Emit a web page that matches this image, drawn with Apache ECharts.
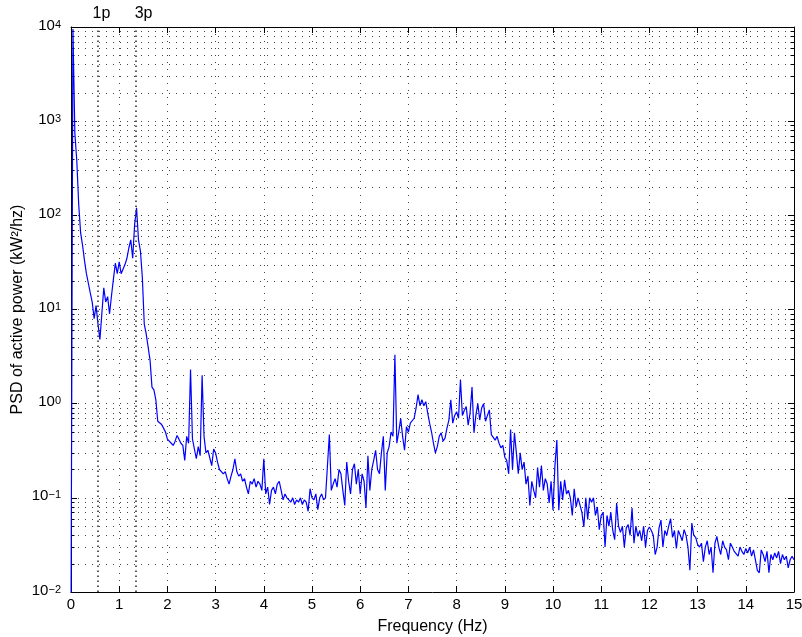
<!DOCTYPE html>
<html><head><meta charset="utf-8">
<script src="https://cdn.jsdelivr.net/npm/echarts@6/dist/echarts.min.js"></script>
<style>html,body{margin:0;padding:0;background:#fff}#c{width:802px;height:637px}</style>
</head><body><div id="c"></div>
<script>
// frequency grid step (Hz); psd values, one per step from 0 to 15 Hz
const df = 0.04;
const psd = [
  0.005, 9500, 750, 380, 130, 65, 48, 33, 24, 19, 15, 12, 8, 11, 7, 4.8, 9, 17, 12, 13.7, 9, 14, 21, 31, 24,
  32, 24, 25, 30, 35, 45, 55, 35, 80, 120, 55, 42, 22, 7, 5.5, 4, 2.9, 1.5, 1.4, 1.1, 0.65, 0.68, 0.6, 0.55, 0.5,
  0.42, 0.40, 0.38, 0.36, 0.40, 0.46, 0.42, 0.38, 0.36, 0.25, 0.45, 0.38, 2.3, 0.42, 0.40, 0.26, 0.35, 0.28, 2.0, 0.45, 0.30, 0.32, 0.31, 0.22, 0.33,
  0.30, 0.24, 0.20, 0.21, 0.18, 0.19, 0.16, 0.14, 0.17, 0.20, 0.26, 0.19, 0.17, 0.18, 0.15, 0.16, 0.13, 0.11, 0.15, 0.14, 0.16, 0.13, 0.15, 0.14, 0.12,
  0.26, 0.11, 0.13, 0.085, 0.12, 0.13, 0.11, 0.14, 0.15, 0.12, 0.095, 0.11, 0.10, 0.095, 0.09, 0.1, 0.085, 0.095, 0.09, 0.1, 0.085, 0.095, 0.09, 0.072, 0.125,
  0.10, 0.095, 0.11, 0.075, 0.10, 0.11, 0.095, 0.10, 0.105, 0.47, 0.12, 0.14, 0.16, 0.13, 0.2, 0.18, 0.12, 0.083, 0.24, 0.15, 0.11, 0.2, 0.23, 0.14, 0.2,
  0.11, 0.18, 0.15, 0.078, 0.28, 0.12, 0.2, 0.25, 0.32, 0.2, 0.18, 0.3, 0.45, 0.12, 0.3, 0.35, 0.5, 0.45, 3.3, 0.38, 0.5, 0.70, 0.45, 0.32, 0.57,
  0.5, 0.62, 0.6, 0.70, 0.9, 1.25, 0.95, 1.1, 0.95, 1.05, 0.8, 0.62, 0.5, 0.38, 0.30, 0.35, 0.45, 0.49, 0.4, 0.43, 0.55, 0.67, 1.1, 0.62, 0.75,
  0.82, 0.7, 1.8, 0.75, 0.85, 0.93, 0.59, 0.8, 1.5, 0.49, 0.75, 1.0, 0.67, 0.9, 1.0, 0.65, 0.75, 0.86, 0.47, 0.45, 0.41, 0.45, 0.38, 0.34, 0.36,
  0.27, 0.25, 0.18, 0.53, 0.2, 0.49, 0.3, 0.18, 0.30, 0.2, 0.24, 0.14, 0.17, 0.083, 0.15, 0.12, 0.1, 0.21, 0.13, 0.22, 0.12, 0.16, 0.14, 0.088, 0.15,
  0.074, 0.22, 0.41, 0.074, 0.15, 0.095, 0.155, 0.11, 0.12, 0.1, 0.065, 0.125, 0.08, 0.1, 0.105, 0.07, 0.049, 0.1, 0.059, 0.1, 0.09, 0.1, 0.065, 0.08, 0.046,
  0.065, 0.07, 0.030, 0.065, 0.05, 0.07, 0.045, 0.036, 0.088, 0.05, 0.043, 0.05, 0.03, 0.048, 0.052, 0.04, 0.078, 0.033, 0.05, 0.039, 0.045, 0.035, 0.05, 0.030, 0.045,
  0.049, 0.045, 0.04, 0.025, 0.03, 0.048, 0.058, 0.03, 0.045, 0.04, 0.05, 0.06, 0.038, 0.045, 0.029, 0.045, 0.04, 0.035, 0.046, 0.04, 0.03, 0.017, 0.054, 0.04, 0.038,
  0.032, 0.03, 0.033, 0.021, 0.03, 0.035, 0.025, 0.03, 0.016, 0.033, 0.039, 0.03, 0.025, 0.035, 0.03, 0.028, 0.022, 0.033, 0.03, 0.027, 0.028, 0.024, 0.03, 0.027, 0.025,
  0.029, 0.026, 0.03, 0.024, 0.028, 0.027, 0.017, 0.016, 0.028, 0.025, 0.021, 0.027, 0.016, 0.025, 0.022, 0.026, 0.023, 0.027, 0.02, 0.025, 0.022, 0.024, 0.018, 0.022, 0.024,
  0.022
];
const markerFreqs = [0.55, 1.34];
const markerLabels = ['1p', '3p'];
const xMin = 0, xMax = 15, xStep = 1;
const yMin = 0.01, yMax = 10000;
const minorMultipliers = [2, 3, 4, 5, 6, 7, 8, 9];
const xTitle = 'Frequency (Hz)';
const yTitle = 'PSD of active power (kW\u00b2/hz)';

const seriesData = psd.map((v, i) => [+(i * df).toFixed(2), v]);
const minorVals = [];
for (let e = Math.log10(yMin); e < Math.log10(yMax); e++) {
  minorMultipliers.forEach(m => minorVals.push([xMin, m * Math.pow(10, e)]));
}
const FONT = 'Liberation Sans, Arial, Helvetica, sans-serif';
const DOT = [1, 6];
const gridDot = { color: '#444', width: 1, type: DOT };

const chart = echarts.init(document.getElementById('c'), null, { renderer: 'canvas' });
chart.setOption({
  animation: false,
  backgroundColor: '#fff',
  grid: { left: 71, right: 8, top: 27, bottom: 45, containLabel: false, outerBoundsMode: 'none' },
  xAxis: [{
    type: 'value', min: xMin, max: xMax, interval: xStep, position: 'bottom',
    name: xTitle, nameLocation: 'middle', nameGap: 27, nameMoveOverlap: false,
    nameTextStyle: { color: '#000', fontSize: 16, fontFamily: FONT },
    axisLine: { show: true, onZero: false, lineStyle: { color: '#000', width: 1 } },
    axisTick: { show: true, inside: true, length: 6, lineStyle: { color: '#000' } },
    axisLabel: { color: '#000', fontSize: 15, fontFamily: FONT, margin: 5 },
    splitLine: { show: true, lineStyle: gridDot }
  }, {
    type: 'value', min: xMin, max: xMax, interval: xStep, position: 'top',
    axisLine: { show: true, onZero: false, lineStyle: { color: '#000', width: 1 } },
    axisTick: { show: true, inside: true, length: 6, lineStyle: { color: '#000' } },
    axisLabel: { show: false }, splitLine: { show: false }
  }],
  yAxis: [{
    type: 'log', logBase: 10, min: yMin, max: yMax, position: 'left',
    name: yTitle, nameLocation: 'middle', nameGap: 45, nameMoveOverlap: false,
    nameTextStyle: { color: '#000', fontSize: 16, fontFamily: FONT },
    axisLine: { show: true, onZero: false, lineStyle: { color: '#000', width: 1 } },
    axisTick: { show: true, inside: true, length: 6, lineStyle: { color: '#000' } },
    axisLabel: {
      margin: 10, fontFamily: FONT, color: '#000',
      formatter: v => {
        const e = Math.round(Math.log10(v));
        return '{b|10}{s|' + (e < 0 ? '\u2212' + (-e) : e) + '}';
      },
      rich: {
        b: { fontSize: 15, lineHeight: 16, padding: [0, 0, 2, 0], verticalAlign: 'bottom', color: '#000', fontFamily: FONT },
        s: { fontSize: 11, lineHeight: 12, padding: [0, 0, 8, 0], verticalAlign: 'top', color: '#000', fontFamily: FONT }
      }
    },
    splitLine: { show: true, lineStyle: gridDot }
  }, {
    type: 'log', logBase: 10, min: yMin, max: yMax, position: 'right',
    axisLine: { show: true, onZero: false, lineStyle: { color: '#000', width: 1 } },
    axisTick: { show: true, inside: true, length: 6, lineStyle: { color: '#000' } },
    axisLabel: { show: false }, splitLine: { show: false }
  }],
  series: [{
    type: 'custom', name: 'minorGrid', xAxisIndex: 0, yAxisIndex: 0, silent: true, clip: false,
    data: minorVals, z: 1,
    renderItem: (params, api) => {
      const v = api.value(1);
      const p0 = api.coord([xMin, v]);
      const p1 = api.coord([xMax, v]);
      const y = Math.round(p0[1]) + 0.5;
      return { type: 'group', children: [
        { type: 'line', shape: { x1: p0[0], y1: y, x2: p1[0], y2: y }, style: { stroke: '#444', lineWidth: 1, lineDash: DOT } },
        { type: 'line', shape: { x1: p0[0], y1: y, x2: p0[0] + 3.5, y2: y }, style: { stroke: '#000', lineWidth: 1 } },
        { type: 'line', shape: { x1: p1[0] - 3.5, y1: y, x2: p1[0], y2: y }, style: { stroke: '#000', lineWidth: 1 } }
      ] };
    }
  }, {
    type: 'line', name: 'PSD', xAxisIndex: 0, yAxisIndex: 0, data: seriesData,
    showSymbol: false, symbol: 'none', z: 3,
    lineStyle: { color: '#0000ff', width: 1.2 },
    markLine: {
      silent: true, symbol: ['none', 'none'],
      lineStyle: { color: '#333', width: 1.6, type: [1.5, 3.5] },
      label: { show: true, position: 'end', distance: 5, color: '#000', fontSize: 16, fontFamily: FONT },
      data: markerFreqs.map((f, i) => ({
        xAxis: f,
        label: { formatter: markerLabels[i], padding: [0, 0, 0, i === 0 ? 8 : 16] }
      }))
    }
  }]
});
</script>
</body></html>
